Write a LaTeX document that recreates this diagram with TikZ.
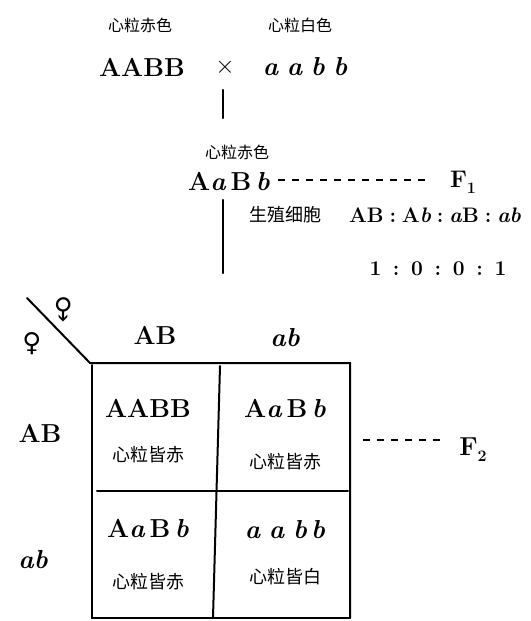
\documentclass[tikz,border=0pt]{standalone}
\usepackage{fontspec}
\newfontfamily\cjk{Noto Sans CJK SC}
\newfontfamily\sym{DejaVu Sans}
\newcommand{\lowidx}[1]{\raisebox{-6pt}{\fontsize{16}{18}\selectfont #1}}
\tikzset{
 gene/.style={font=\bfseries\fontsize{26}{30}\selectfont, inner sep=0pt},
 genesm/.style={font=\bfseries\fontsize{21}{24}\selectfont, inner sep=0pt},
 note/.style={font=\cjk\fontsize{16}{18}\selectfont, inner sep=0pt},
 cellnote/.style={font=\cjk\fontsize{18}{20}\selectfont, inner sep=0pt},
 ink/.style={line width=2.2pt, line cap=round},
 thin/.style={line width=2pt, line cap=round},
 dashline/.style={line width=2pt, dash pattern=on 7pt off 7pt},
 symb/.style={font=\sym\bfseries\fontsize{26}{28}\selectfont, inner sep=0pt},
}
\begin{document}
\begin{tikzpicture}[x=1pt,y=-1pt]
\useasboundingbox (0,0) rectangle (530,621);
% parents
\node[note] (n1) at (140,25) {心粒赤色};
\node[note] (n2) at (300,25) {心粒白色};
\node[gene] (p1) at (142,67) {AABB};
\node[gene] (x) at (225,67) {$\times$};
\node[gene] (p2) at (305,67) {\itshape a\,\,a\,\,b\,\,b};
\coordinate (v1a) at (223,90);
\coordinate (v1b) at (223,118);
\draw[ink] (v1a) -- (v1b);
% F1
\node[note] (n3) at (237,152) {心粒赤色};
\node[gene] (f1) at (229,182) {A\textit{a}\,B\,\textit{b}};
\node[gene, font=\bfseries\fontsize{24}{28}\selectfont] (F1) at (463,182) {F\lowidx{1}};
\coordinate (d1a) at (278,180);
\coordinate (d1b) at (427,180);
\draw[dashline] (d1a) -- (d1b);
\coordinate (v2a) at (223,200);
\coordinate (v2b) at (223,273);
\draw[ink] (v2a) -- (v2b);
\node[cellnote] (gc) at (285,215) {生殖细胞};
\node[genesm] (ratio) at (435,215) {AB\;:\;A\textit{b}\;:\;\textit{a}B\;:\;\textit{ab}};
\node[genesm] (r2) at (438,269) {1\;\;:\;\;0\;\;:\;\;0\;\;:\;\;1};
% Punnett square
\coordinate (dg1) at (27,298);
\coordinate (tl) at (90,363);
\coordinate (tr) at (350,363);
\coordinate (tm) at (220,366);
\coordinate (bl) at (92,618);
\coordinate (bm) at (213,618);
\coordinate (br) at (350,618);
\coordinate (ml) at (97,491);
\coordinate (mr) at (348,491);
\draw[thin] (dg1) -- (tl) -- (tr) -- (br);
\draw[thin] (92,365) -- (bl) -- (br);
\draw[thin] (tm) -- (bm);
\draw[thin] (ml) -- (mr);
\node[symb] (male) at (64,308) {\rotatebox{-135}{♂}};
\node[symb] (female) at (32,344) {♀};
\node[gene] (cAB) at (155,335) {AB};
\node[gene] (cab) at (285,338) {\itshape ab};
\node[gene] (rAB) at (40,433) {AB};
\node[gene] (rab) at (33,560) {\itshape ab};
\node[gene] (g11) at (148,408) {AABB};
\node[cellnote] (t11) at (148,455) {心粒皆赤};
\node[gene] (g12) at (285,408) {A\textit{a}\,B\,\textit{b}};
\node[cellnote] (t12) at (285,462) {心粒皆赤};
\node[gene] (g21) at (148,528) {A\textit{a}\,B\,\textit{b}};
\node[cellnote] (t21) at (148,582) {心粒皆赤};
\node[gene] (g22) at (285,530) {\itshape a\,\,a\,\,b\,b};
\node[cellnote] (t22) at (285,577) {心粒皆白};
\coordinate (d2a) at (363,440);
\coordinate (d2b) at (447,440);
\draw[dashline] (d2a) -- (d2b);
\node[gene] (F2) at (473,450) {F\lowidx{2}};
\end{tikzpicture}
\end{document}
